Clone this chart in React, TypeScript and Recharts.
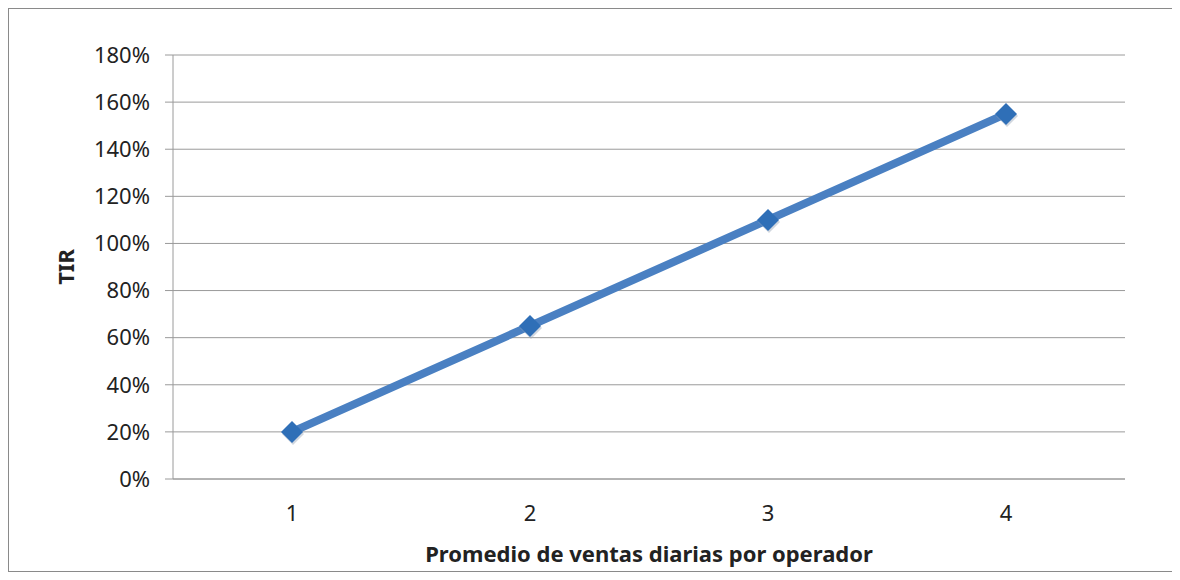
import { CartesianGrid, Line, LineChart, XAxis, YAxis } from "recharts";

const operadores = ["1", "2", "3", "4"];
const tirValores = [0.2, 0.65, 1.1, 1.55];
const tirTicks = [0, 0.2, 0.4, 0.6, 0.8, 1.0, 1.2, 1.4, 1.6, 1.8];

const data = operadores.map((op, i) => ({ op, tir: tirValores[i] }));

const FONT = "'Noto Sans', 'Open Sans', sans-serif";

type DotProps = { cx?: number; cy?: number };

function Diamond({ cx, cy }: DotProps) {
  if (cx == null || cy == null) return null;
  const r = 11;
  return (
    <g>
      <path
        d={`M${cx + 1},${cy - r + 2} L${cx + r + 1},${cy + 2} L${cx + 1},${cy + r + 2} L${cx - r + 1},${cy + 2} Z`}
        fill="#9aa7b8"
        opacity={0.45}
      />
      <path d={`M${cx},${cy - r} L${cx + r},${cy} L${cx},${cy + r} L${cx - r},${cy} Z`} fill="#2f6fb7" />
    </g>
  );
}

type LabelViewBox = { viewBox?: { x: number; y: number; width: number; height: number } };

function TirLabel({ viewBox }: LabelViewBox) {
  if (!viewBox) return null;
  const x = 56;
  const y = viewBox.y + viewBox.height / 2;
  return (
    <text
      x={x}
      y={y}
      transform={`rotate(-90 ${x} ${y})`}
      textAnchor="middle"
      dominantBaseline="central"
      fontFamily={FONT}
      fontWeight={700}
      fontSize={22}
      fill="#222"
    >
      TIR
    </text>
  );
}

export default function App() {
  return (
    <div
      style={{
        width: 1166,
        height: 564,
        border: "1px solid #8a8a8a",
        boxSizing: "border-box",
        background: "#fff",
      }}
    >
      <LineChart width={1164} height={562} data={data} margin={{ top: 46, right: 48, left: 0, bottom: 0 }}>
        <CartesianGrid vertical={false} stroke="#9a9a9a" />
        <XAxis
          dataKey="op"
          height={92}
          padding={{ left: 119, right: 119 }}
          tickLine={false}
          tickSize={0}
          tickMargin={26}
          fontSize={22}
          fontFamily={FONT}
          axisLine={{ stroke: "#9a9a9a" }}
          tick={{ fill: "#222", fontSize: 22, fontFamily: FONT }}
          label={{
            value: "Promedio de ventas diarias por operador",
            position: "insideBottom",
            offset: 9,
            fill: "#222",
            fontSize: 22,
            fontWeight: 700,
            fontFamily: FONT,
          }}
        />
        <YAxis
          width={164}
          domain={[0, 1.8]}
          ticks={tirTicks}
          tickSize={8}
          tickMargin={15}
          fontSize={22}
          fontFamily={FONT}
          tickLine={{ stroke: "#9a9a9a" }}
          axisLine={{ stroke: "#9a9a9a" }}
          tickFormatter={(v: number) => `${Math.round(v * 100)}%`}
          tick={{ fill: "#222", fontSize: 22, fontFamily: FONT }}
          label={<TirLabel />}
        />
        <Line
          type="linear"
          dataKey="tir"
          stroke="#4a80c2"
          strokeWidth={8}
          dot={<Diamond />}
          activeDot={false}
          isAnimationActive={false}
        />
      </LineChart>
    </div>
  );
}
